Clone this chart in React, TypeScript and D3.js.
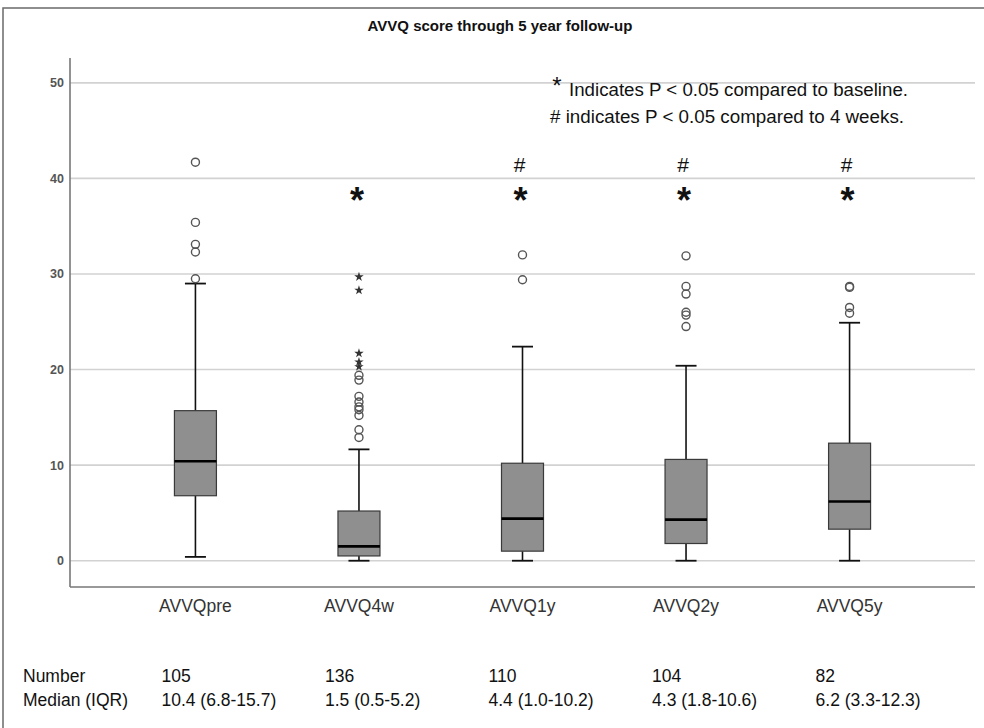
import React from 'react';
import * as d3 from 'd3';

const categories = ['AVVQpre', 'AVVQ4w', 'AVVQ1y', 'AVVQ2y', 'AVVQ5y'];
const lowWhisker = [0.4, 0, 0, 0, 0];
const q1 = [6.8, 0.5, 1.0, 1.8, 3.3];
const medians = [10.4, 1.5, 4.4, 4.3, 6.2];
const q3 = [15.7, 5.2, 10.2, 10.6, 12.3];
const highWhisker = [29.0, 11.65, 22.4, 20.4, 24.9];
const outlierCircles = [
  [41.7, 35.4, 33.1, 32.3, 29.5],
  [19.4, 18.9, 17.2, 16.6, 16.1, 15.8, 15.2, 13.7, 12.9],
  [32.0, 29.4],
  [31.9, 28.7, 27.9, 26.0, 25.7, 24.5],
  [28.7, 28.6, 26.5, 25.9],
];
const extremeStars = [[], [29.7, 28.3, 21.7, 20.8, 20.3], [], [], []];
const sigBaseline = [false, true, true, true, true];
const sigFourWeeks = [false, false, true, true, true];
const numbers = ['105', '136', '110', '104', '82'];
const medianIQR = ['10.4 (6.8-15.7)', '1.5 (0.5-5.2)', '4.4 (1.0-10.2)', '4.3 (1.8-10.6)', '6.2 (3.3-12.3)'];
const yTicks = [0, 10, 20, 30, 40, 50];

const W = 984;
const H = 728;
const FONT = '"Liberation Sans", Arial, sans-serif';

export default function App() {
  const left = 70;
  const right = 975;
  const top = 58;
  const bottom = 587;
  const y = d3.scaleLinear().domain([-2.75, 52.6]).range([bottom, top]);
  const x = d3.scalePoint<string>().domain(categories).range([left, right]).padding(0.767);
  const boxW = 42;
  const capW = 21;
  const starSym = d3.symbol().type(d3.symbolStar).size(28)();

  return (
    <svg width={W} height={H} style={{ position: 'absolute', left: 0, top: 0, background: '#fff' }} fontFamily={FONT}>
      <rect x={0} y={0} width={W} height={H} fill="#fff" />
      <rect x={3} y={8} width={1100} height={900} fill="none" stroke="#6a6a6a" strokeWidth={1.5} />
      <text x={500} y={31} textAnchor="middle" fontSize={15} fontWeight="bold" fill="#111">
        AVVQ score through 5 year follow-up
      </text>

      {/* gridlines */}
      {yTicks.map((t) => (
        <line key={'g' + t} x1={left} x2={right} y1={y(t)} y2={y(t)} stroke="#d2d2d2" strokeWidth={1.6} />
      ))}
      {yTicks.map((t) => (
        <text key={'t' + t} x={left - 6} y={y(t) + 4.5} textAnchor="end" fontSize={12.5} fontWeight="bold" fill="#555">
          {t}
        </text>
      ))}
      {/* axes */}
      <line x1={left} x2={left} y1={top} y2={bottom} stroke="#777" strokeWidth={1.6} />
      <line x1={left} x2={right} y1={bottom} y2={bottom} stroke="#777" strokeWidth={1.6} />

      {categories.map((c, i) => {
        const cx = x(c) as number;
        return (
          <g key={c}>
            <line x1={cx} x2={cx} y1={y(highWhisker[i])} y2={y(q3[i])} stroke="#111" strokeWidth={1.6} />
            <line x1={cx} x2={cx} y1={y(lowWhisker[i])} y2={y(q1[i])} stroke="#111" strokeWidth={1.6} />
            <line x1={cx - capW / 2} x2={cx + capW / 2} y1={y(highWhisker[i])} y2={y(highWhisker[i])} stroke="#111" strokeWidth={1.8} />
            <line x1={cx - capW / 2} x2={cx + capW / 2} y1={y(lowWhisker[i])} y2={y(lowWhisker[i])} stroke="#111" strokeWidth={1.8} />
            <rect x={cx - boxW / 2} y={y(q3[i])} width={boxW} height={y(q1[i]) - y(q3[i])} fill="#8f8f8f" stroke="#3a3a3a" strokeWidth={1.2} />
            <line x1={cx - boxW / 2} x2={cx + boxW / 2} y1={y(medians[i])} y2={y(medians[i])} stroke="#000" strokeWidth={2.6} />
            {outlierCircles[i].map((v, k) => (
              <circle key={'o' + k} cx={cx} cy={y(v)} r={4} fill="none" stroke="#555" strokeWidth={1.4} />
            ))}
            {extremeStars[i].map((v, k) => (
              <path key={'s' + k} d={starSym || ''} transform={`translate(${cx},${y(v)})`} fill="#333" />
            ))}
            {sigFourWeeks[i] && (
              <text x={cx - 3} y={172} textAnchor="middle" fontSize={21} fill="#111">#</text>
            )}
            {sigBaseline[i] && (
              <text x={cx - 2} y={213} textAnchor="middle" fontSize={36} fontWeight="bold" fill="#111">*</text>
            )}
            <text x={cx} y={612} textAnchor="middle" fontSize={17.5} fill="#333">{c}</text>
            <text x={cx - 34} y={682} fontSize={17.5} fill="#111">{numbers[i]}</text>
            <text x={cx - 34} y={706} fontSize={17.5} fill="#111">{medianIQR[i]}</text>
          </g>
        );
      })}

      <text x={23} y={682} fontSize={17.5} fill="#111">Number</text>
      <text x={23} y={706} fontSize={17.5} fill="#111">Median (IQR)</text>

      <text x={557} y={94} textAnchor="middle" fontSize={24} fill="#111">*</text>
      <text x={569} y={96} fontSize={17.5} fill="#111" textLength={339} lengthAdjust="spacingAndGlyphs">
        Indicates P &lt; 0.05 compared to baseline.
      </text>
      <text x={550} y={122.7} fontSize={17.5} fill="#111" textLength={354} lengthAdjust="spacingAndGlyphs">
        # indicates P &lt; 0.05 compared to 4 weeks.
      </text>
    </svg>
  );
}
